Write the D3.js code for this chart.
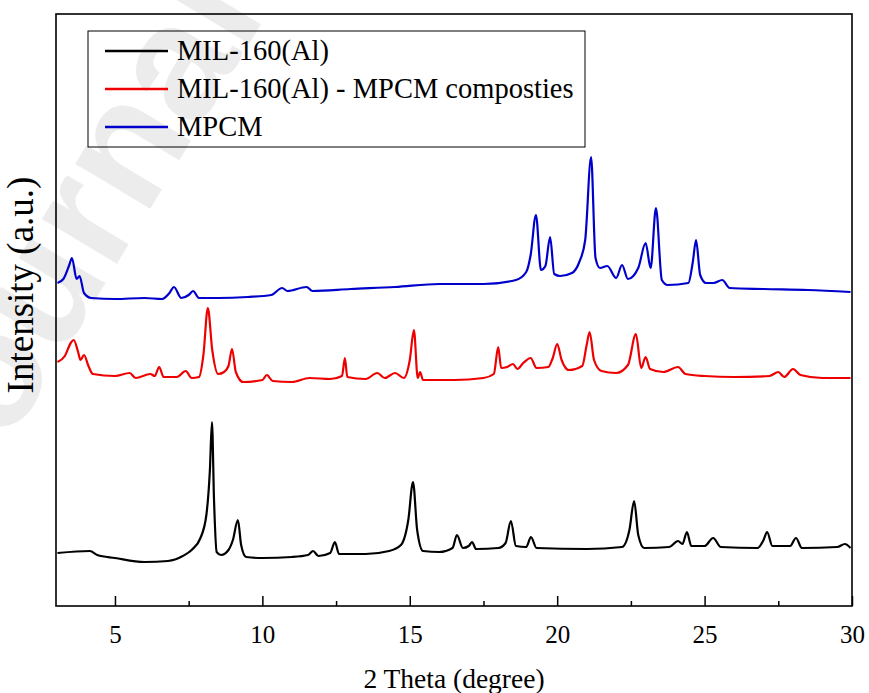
<!DOCTYPE html>
<html><head><meta charset="utf-8">
<script src="https://cdn.jsdelivr.net/npm/d3@7"></script>
<style>body{margin:0;background:#fff}</style>
</head><body>
<svg id="c" width="869" height="693"></svg>
<script>
// 2θ (degree), intensity (a.u., stacked)
const mil160 = [
[3.05,53],[4.15,55],[4.4,51],[5.0,48],[6.0,44],[6.8,45],[7.3,50],[7.6,56],[7.9,68],[8.1,91],[8.22,136],[8.29,184],[8.36,106],[8.45,54],[8.6,51],[8.85,56],[9.0,66],[9.17,86],[9.28,61],[9.45,49],
[10.0,48],[11.0,49],[11.55,51],[11.72,55],[11.9,50],[12.3,53],[12.46,64],[12.6,52],[13.5,52],[14.3,55],[14.7,61],[14.95,86],[15.11,124],[15.25,76],[15.45,55],
[16.0,54],[16.45,58],[16.6,71],[16.8,58],[17.0,60],[17.11,64],[17.25,57],[18.0,58],[18.25,63],[18.43,85],[18.6,60],[18.95,59],[19.11,69],[19.3,58],
[21.0,57],[22.2,59],[22.45,76],[22.61,105],[22.75,71],[22.95,58],[23.8,59],[24.1,65],[24.25,62],[24.4,74],[24.55,60],[25.0,60],[25.29,68],[25.55,59],
[26.8,58],[27.0,66],[27.12,74],[27.3,60],[27.9,60],[28.1,68],[28.3,58],[29.5,59],[29.76,62],[29.95,58]
];
const composite = [
[3.05,244],[3.3,250],[3.5,263],[3.6,266],[3.75,254],[3.83,246],[3.95,251],[4.1,240],[4.25,232],[5.0,230],[5.5,233],[5.7,228],[6.2,232],[6.35,230],[6.5,239],[6.65,229],[7.1,229],[7.4,235],[7.6,228],[7.85,229],
[8.0,251],[8.15,298],[8.3,256],[8.5,232],[8.7,234],[8.85,240],[8.97,257],[9.1,234],[9.35,224],[10.0,226],[10.15,231],[10.35,225],[11.0,224],[11.6,228],[12.3,227],[12.7,230],[12.8,248],[12.88,229],
[13.5,227],[13.9,233],[14.15,228],[14.5,233],[14.8,228],[15.0,246],[15.14,276],[15.27,228],[15.35,234],[15.45,226],[16.5,226],[17.5,228],[17.85,232],[18.0,259],[18.1,238],[18.3,239],[18.5,242],[18.65,237],[18.85,243],[19.1,248],[19.3,238],
[19.7,239],[19.85,248],[20.0,262],[20.15,246],[20.4,236],[20.85,240],[21.0,261],[21.1,274],[21.25,246],[21.5,235],[22.0,233],[22.4,241],[22.67,272],[22.85,238],[23.0,249],[23.15,237],[23.6,234],[24.1,239],[24.35,232],
[25.0,230],[26.0,229],[27.2,230],[27.5,234],[27.7,229],[28.0,237],[28.25,231],[29.0,228],[29.95,228]
];
const mpcm = [
[3.05,323],[3.25,327],[3.45,341],[3.54,348],[3.7,327],[3.8,330],[3.95,313],[4.2,308],[5.0,307],[6.0,308],[6.6,307],[6.85,313],[7.0,319],[7.25,308],[7.5,311],[7.65,315],[7.85,308],[8.5,308],[9.5,309],
[10.3,311],[10.67,318],[10.85,315],[11.5,319],[11.7,315],[13.0,317],[14.5,319],[16.0,322],[17.5,322],[18.6,326],[18.95,334],[19.1,351],[19.28,391],[19.45,336],[19.6,340],[19.76,369],[19.9,332],
[20.1,330],[20.5,333],[20.75,344],[20.95,366],[21.15,449],[21.3,348],[21.45,338],[21.7,340],[22.0,328],[22.2,341],[22.4,327],[22.75,338],[23.0,363],[23.17,338],[23.35,398],[23.55,326],[23.75,321],
[24.45,323],[24.6,344],[24.71,366],[24.85,331],[25.05,323],[25.3,323],[25.6,326],[25.85,318],[27.0,317],[28.5,316],[29.95,314]
];
const seriesNames = ["MIL-160(Al)", "MIL-160(Al) - MPCM composties", "MPCM"];
const seriesColors = ["#000000", "#ee0000", "#0000cc"];
const seriesData = [mil160, composite, mpcm];
const xTicks = [5, 10, 15, 20, 25, 30];
const xMinorTicks = [7.5, 12.5, 17.5, 22.5, 27.5];

const SERIF = "Liberation Serif";
const svg = d3.select("#c");
const L = 56, R = 852, T = 14, B = 606;
const x = d3.scaleLinear().domain([3, 30]).range([L, R]);
const y = d3.scaleLinear().domain([0, 592]).range([B, T]);

// watermark
svg.append("text").attr("transform","translate(-40,525) rotate(-59)")
  .attr("font-family","Liberation Sans").attr("font-weight","bold").attr("font-size",165)
  .attr("fill","#ececec").text("Journal Pre-proof");

const line = d3.line().x(d=>x(d[0])).y(d=>y(d[1])).curve(d3.curveMonotoneX);
seriesData.forEach((s,i)=>{
  svg.append("path").datum(s).attr("d",line).attr("fill","none")
    .attr("stroke",seriesColors[i]).attr("stroke-width",2.2).attr("stroke-linejoin","round");
});

// frame
svg.append("rect").attr("x",L).attr("y",T).attr("width",R-L).attr("height",B-T)
  .attr("fill","none").attr("stroke","#000").attr("stroke-width",1.6);

// x axis
const ax = svg.append("g").attr("transform",`translate(0,${B})`)
  .call(d3.axisBottom(x).tickValues(xTicks).tickSizeInner(-10).tickSizeOuter(0).tickPadding(19).tickFormat(d3.format("d")));
ax.select(".domain").remove();
ax.selectAll("line").attr("stroke","#000").attr("stroke-width",1.5);
ax.selectAll("text").attr("font-family",SERIF).attr("font-size",25).attr("fill","#000");
const axm = svg.append("g").attr("transform",`translate(0,${B})`)
  .call(d3.axisBottom(x).tickValues(xMinorTicks).tickSizeInner(-5).tickSizeOuter(0).tickFormat(""));
axm.select(".domain").remove();
axm.selectAll("line").attr("stroke","#000").attr("stroke-width",1.5);

svg.append("text").attr("x",(L+R)/2).attr("y",688).attr("text-anchor","middle")
  .attr("font-family",SERIF).attr("font-size",27.5).text("2 Theta (degree)");
svg.append("text").attr("transform",`translate(33,285) rotate(-90)`).attr("text-anchor","middle")
  .attr("font-family",SERIF).attr("font-size",37).text("Intensity (a.u.)");

// legend
const lg = svg.append("g");
lg.append("rect").attr("x",88).attr("y",31).attr("width",497).attr("height",116)
  .attr("fill","none").attr("stroke","#000").attr("stroke-width",1);
seriesNames.forEach((n,i)=>{
  const yy = 51 + i*38;
  lg.append("line").attr("x1",105).attr("x2",168).attr("y1",yy).attr("y2",yy)
    .attr("stroke",seriesColors[i]).attr("stroke-width",2.5);
  lg.append("text").attr("x",177).attr("y",yy+9)
    .attr("font-family",SERIF).attr("font-size",28.5).text(n);
});
</script>
</body></html>
